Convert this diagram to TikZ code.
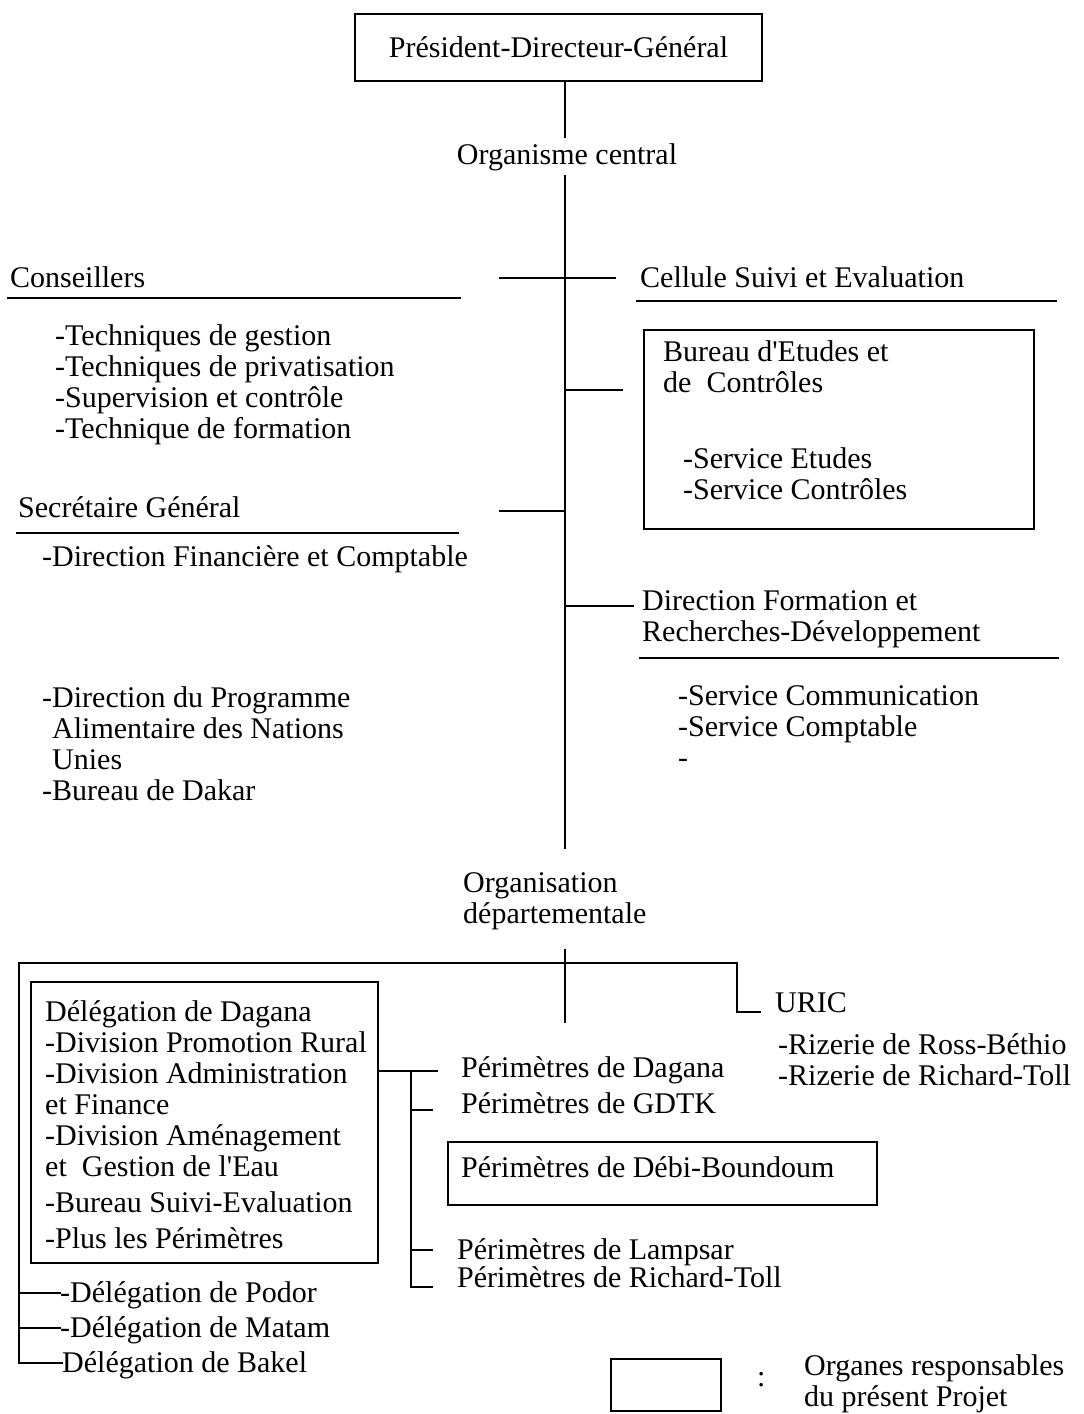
\documentclass[tikz,border=0pt]{standalone}
\usepackage{fontspec}
\setmainfont{Liberation Serif}
\begin{document}
\begin{tikzpicture}[x=1pt,y=-1pt,
  txt/.style={inner sep=0pt, anchor=base west, align=left, font=\fontsize{30}{31}\selectfont},
  rule/.style={line width=2pt},
  box/.style={draw, line width=2pt, inner sep=0pt},
  line cap=rect]
\useasboundingbox (0,0) rectangle (1084,1414);
\fill[white] (0,0) rectangle (1084,1414);

% multi-line texts are placed by the baseline of their last line

% ---------- head of the organisation ----------
\node[box, minimum width=407pt, minimum height=67pt, font=\fontsize{30}{31}\selectfont]
  (pdg) at (558.5,47.5) {Président-Directeur-Général};
\node[txt, anchor=base, outer sep=6pt] (oc) at (567,164) {Organisme central};

% central trunk
\coordinate (tTop) at (565,81);
\coordinate (tMid) at (565,848);
\draw[rule] (tTop) -- (tTop |- oc.north);
\draw[rule] (tTop |- oc.south) -- (tMid);

% ---------- central services ----------
\coordinate (cL) at (500,278);
\coordinate (cR) at (615,278);
\draw[rule] (cL) -- (cR);

\node[txt] (cons) at (10,287) {Conseillers};
\draw[rule] (8,298) coordinate (consU1) -- (460,298) coordinate (consU2);
\node[txt] (cse) at (640,287) {Cellule Suivi et Evaluation};
\draw[rule] (637,301) coordinate (cseU1) -- (1056,301) coordinate (cseU2);

\node[txt] (tech) at (55,438) {-Techniques de gestion\\-Techniques de privatisation\\-Supervision et contrôle\\-Technique de formation};

\node[box, minimum width=390pt, minimum height=199pt] (bec) at (839,429.5) {};
\node[txt] (becT) at (663,392) {Bureau d\textquotesingle Etudes et\\de\ \ Contrôles};
\node[txt] (becS) at (683,499) {-Service Etudes\\-Service Contrôles};
\coordinate (bL) at (565,390);
\coordinate (bR) at (622,390);
\draw[rule] (bL) -- (bR);

\node[txt] (sg) at (18,517) {Secrétaire Général};
\draw[rule] (17,533) coordinate (sgU1) -- (458,533) coordinate (sgU2);
\coordinate (sL) at (500,511);
\coordinate (sR) at (565,511);
\draw[rule] (sL) -- (sR);
\node[txt] (dfc) at (42,566) {-Direction Financière et Comptable};

\node[txt] (dfr) at (642,641) {Direction Formation et\\Recherches-Développement};
\coordinate (dL) at (565,606);
\coordinate (dR) at (633,606);
\draw[rule] (dL) -- (dR);
\draw[rule] (640,658) coordinate (dfrU1) -- (1058,658) coordinate (dfrU2);
\node[txt] (serv) at (678,767) {-Service Communication\\-Service Comptable\\-};

\node[txt] (pam) at (42,800) {-Direction du Programme\\\hspace*{10pt}Alimentaire des Nations\\\hspace*{10pt}Unies\\-Bureau de Dakar};

% ---------- departmental organisation ----------
\node[txt] (od) at (463,923) {Organisation\\départementale};

\coordinate (tLow) at (565,950);
\coordinate (tEnd) at (565,1022);
\draw[rule] (tLow) -- (tEnd);

\coordinate (barL) at (19,963);
\coordinate (barR) at (737,963);
\draw[rule] (barL) -- (barR);

% URIC branch
\node[txt] (uric) at (775,1012) {URIC};
\coordinate (uricEnd) at (760,1012);
\draw[rule] (barR) -- (barR |- uricEnd) -- (uricEnd);
\node[txt] (riz) at (778,1085) {-Rizerie de Ross-Béthio\\-Rizerie de Richard-Toll};

% delegations
\node[box, minimum width=347pt, minimum height=281pt] (dag) at (204.5,1122.5) {};
\node[txt] (dagT) at (45,1248) {Délégation de Dagana\\-Division Promotion Rural\\-Division Administration\\et Finance\\-Division Aménagement\\et\ \ Gestion de l\textquotesingle Eau\\[5pt]-Bureau Suivi-Evaluation\\[5pt]-Plus les Périmètres};

\node[txt] (pod) at (60,1302) {-Délégation de Podor};
\node[txt] (mat) at (60,1337) {-Délégation de Matam};
\node[txt] (bak) at (62,1372) {Délégation de Bakel};
\coordinate (podL) at (19,1293);
\coordinate (matL) at (19,1328);
\coordinate (bakL) at (19,1363);
\draw[rule] (barL) -- (bakL) -- (bakL -| bak.west);
\draw[rule] (podL) -- (podL -| pod.west);
\draw[rule] (matL) -- (matL -| mat.west);

% perimeters of the Dagana delegation
\coordinate (pA) at (378,1071);
\coordinate (pB) at (437,1071);
\coordinate (pV) at (411,1071);
\coordinate (pG) at (432,1110);
\coordinate (pLa) at (432,1250);
\coordinate (pRt) at (432,1287);
\draw[rule] (dag.east |- pA) -- (pB);
\draw[rule] (pV) -- (pV |- pRt) -- (pRt);
\draw[rule] (pV |- pG) -- (pG);
\draw[rule] (pV |- pLa) -- (pLa);

\node[txt] (pDag) at (461,1077) {Périmètres de Dagana};
\node[txt] (pGdtk) at (461,1113) {Périmètres de GDTK};
\node[box, minimum width=429pt, minimum height=63pt] (debi) at (662.5,1173.5) {};
\node[txt] (pDebi) at (461,1177) {Périmètres de Débi-Boundoum};
\node[txt] (pLamp) at (457,1259) {Périmètres de Lampsar};
\node[txt] (pRich) at (457,1287) {Périmètres de Richard-Toll};

% ---------- legend ----------
\node[box, minimum width=110pt, minimum height=52pt] (leg) at (666,1385) {};
\node[txt] (legC) at (757,1386) {:};
\node[txt] (legT) at (804,1406) {Organes responsables\\du présent Projet};
\end{tikzpicture}
\end{document}
